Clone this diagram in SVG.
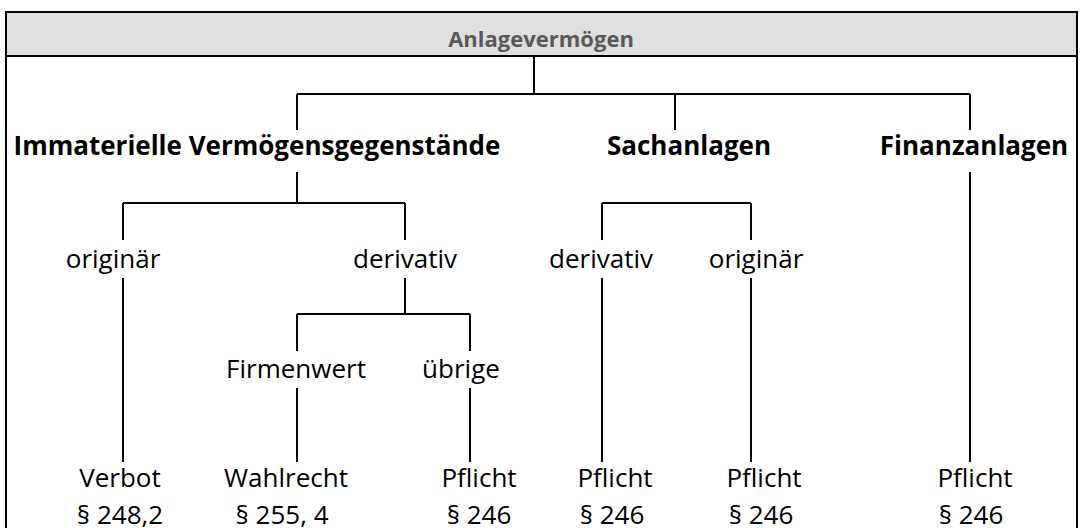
<svg xmlns="http://www.w3.org/2000/svg" width="1084" height="528" viewBox="0 0 1084 528">
  <style>
    .frame { fill: #ffffff; stroke: #000000; stroke-width: 2; }
    .band { fill: #dfdfdf; stroke: #000000; stroke-width: 2; }
    .title { font-family: "Open Sans", "Liberation Sans", sans-serif; font-size: 22px; font-weight: bold; fill: #595959; text-anchor: middle; }
    .head { font-family: "Open Sans", "Liberation Sans", sans-serif; font-size: 26px; font-weight: bold; fill: #000000; text-anchor: middle; }
    .lbl { font-family: "Open Sans", "Liberation Sans", sans-serif; font-size: 26px; fill: #000000; text-anchor: middle; }
    .wire { fill: none; stroke: #000000; stroke-width: 2; }
  </style>

  <!-- table frame and header band -->
  <rect class="frame" x="6" y="12" width="1071" height="530"/>
  <rect class="band" x="6" y="12" width="1071" height="44"/>

  <g id="root">
    <text class="title" x="541" y="47">Anlagevermögen</text>
  </g>

  <g id="immaterielle">
    <text class="head" x="257" y="155">Immaterielle Vermögensgegenstände</text>
  </g>
  <g id="sachanlagen">
    <text class="head" x="689" y="155">Sachanlagen</text>
  </g>
  <g id="finanzanlagen">
    <text class="head" x="974" y="155">Finanzanlagen</text>
  </g>

  <g id="imm-originaer">
    <text class="lbl" x="113" y="268">originär</text>
  </g>
  <g id="imm-derivativ">
    <text class="lbl" x="405" y="268">derivativ</text>
  </g>
  <g id="sach-derivativ">
    <text class="lbl" x="601" y="268">derivativ</text>
  </g>
  <g id="sach-originaer">
    <text class="lbl" x="756" y="268">originär</text>
  </g>

  <g id="firmenwert">
    <text class="lbl" x="296" y="378">Firmenwert</text>
  </g>
  <g id="uebrige">
    <text class="lbl" x="461" y="378">übrige</text>
  </g>

  <g id="res-verbot">
    <text class="lbl" x="120" y="487">Verbot</text>
    <text class="lbl" x="120" y="524">§ 248,2</text>
  </g>
  <g id="res-wahlrecht">
    <text class="lbl" x="286" y="487">Wahlrecht</text>
    <text class="lbl" x="282" y="524">§ 255, 4</text>
  </g>
  <g id="res-pflicht-1">
    <text class="lbl" x="479" y="487">Pflicht</text>
    <text class="lbl" x="479" y="524">§ 246</text>
  </g>
  <g id="res-pflicht-2">
    <text class="lbl" x="615" y="487">Pflicht</text>
    <text class="lbl" x="612" y="524">§ 246</text>
  </g>
  <g id="res-pflicht-3">
    <text class="lbl" x="764" y="487">Pflicht</text>
    <text class="lbl" x="761" y="524">§ 246</text>
  </g>
  <g id="res-pflicht-4">
    <text class="lbl" x="975" y="487">Pflicht</text>
    <text class="lbl" x="971" y="524">§ 246</text>
  </g>

  <g id="connectors" class="wire">
    <path d="M534 56 V94"/>
    <path d="M297 94 H970"/>
    <path d="M297 94 V130 M675 94 V130 M970 94 V130"/>
    <path d="M297 172 V203 M123 203 H405 M123 203 V240 M405 203 V240"/>
    <path d="M123 278 V462"/>
    <path d="M405 278 V314 M297 314 H470 M297 314 V351 M470 314 V351"/>
    <path d="M297 388 V462 M470 388 V462"/>
    <path d="M602 203 H751 M602 203 V240 M751 203 V240"/>
    <path d="M602 278 V462 M751 278 V462"/>
    <path d="M970 172 V462"/>
  </g>
</svg>
